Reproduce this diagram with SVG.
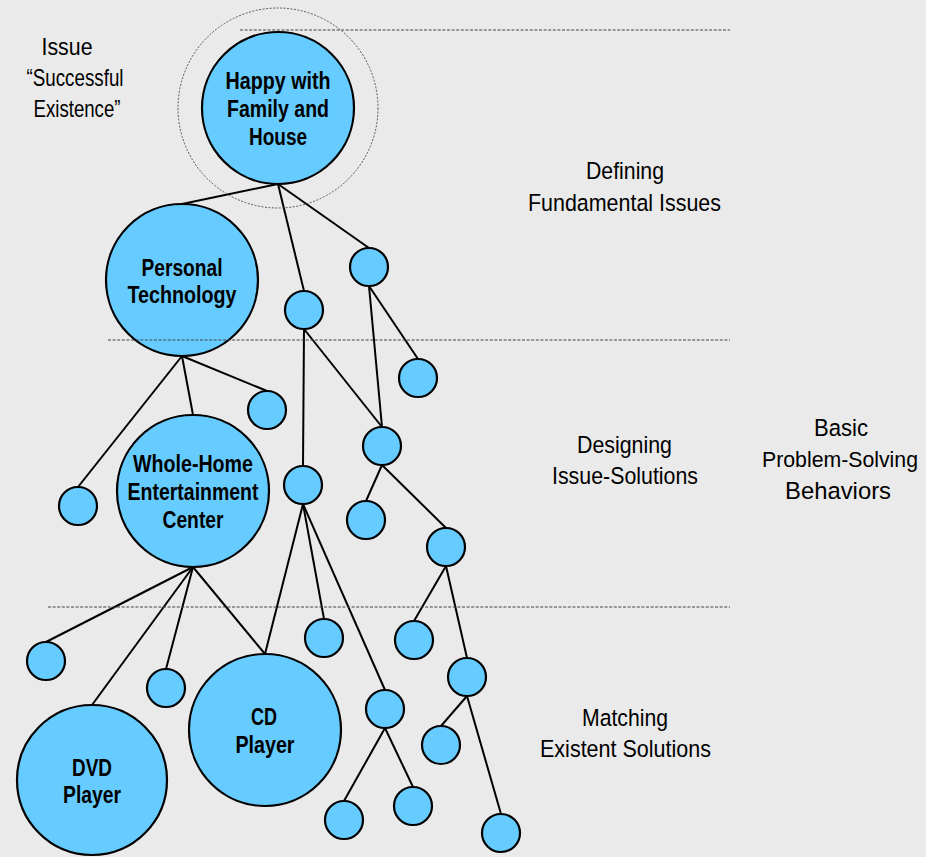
<svg xmlns="http://www.w3.org/2000/svg" width="926" height="857" viewBox="0 0 926 857">
<style>
.bg{fill:#eaeaea}
.n{fill:#66ccff;stroke:#000;stroke-width:2.2}
.e line{stroke:#000;stroke-width:2}
.lab{font-family:"Liberation Sans",Arial,sans-serif;font-weight:bold;font-size:23px;fill:#000;text-anchor:middle}
.side{font-family:"Liberation Sans",Arial,sans-serif;font-size:24.5px;fill:#000;text-anchor:middle}
.dash{stroke:#444;stroke-width:1;stroke-dasharray:3 1.6;fill:none}
</style>
<rect class="bg" x="0" y="0" width="926" height="857"/>
<g id="connectors" class="e">
<line x1="278" y1="184" x2="182" y2="204"/>
<line x1="278" y1="184" x2="304" y2="291"/>
<line x1="278" y1="184" x2="369" y2="248"/>
<line x1="369" y1="286" x2="382" y2="427"/>
<line x1="369" y1="286" x2="418" y2="359"/>
<line x1="304" y1="329" x2="303" y2="466"/>
<line x1="304" y1="329" x2="382" y2="427"/>
<line x1="182" y1="356" x2="78" y2="487"/>
<line x1="182" y1="356" x2="193" y2="415"/>
<line x1="182" y1="356" x2="267" y2="391"/>
<line x1="382" y1="465" x2="366" y2="501"/>
<line x1="382" y1="465" x2="446" y2="528"/>
<line x1="303" y1="504" x2="265" y2="654"/>
<line x1="303" y1="504" x2="324" y2="619"/>
<line x1="303" y1="504" x2="385" y2="690"/>
<line x1="193" y1="567" x2="46" y2="642"/>
<line x1="193" y1="567" x2="92" y2="705"/>
<line x1="193" y1="567" x2="166" y2="669"/>
<line x1="193" y1="567" x2="265" y2="654"/>
<line x1="446" y1="566" x2="414" y2="621"/>
<line x1="446" y1="566" x2="467" y2="658"/>
<line x1="467" y1="696" x2="441" y2="726"/>
<line x1="467" y1="696" x2="501" y2="814"/>
<line x1="385" y1="728" x2="344" y2="801"/>
<line x1="385" y1="728" x2="413" y2="787"/>
</g>
<g id="ring"><circle cx="278" cy="108" r="100" fill="none" stroke="#555" stroke-width="1" stroke-dasharray="2 1.5"/></g>
<g id="node-happy"><circle class="n" cx="278" cy="108" r="76"/>
<text class="lab"><tspan x="278" y="89" textLength="105" lengthAdjust="spacingAndGlyphs">Happy with</tspan><tspan x="278" y="117" textLength="102" lengthAdjust="spacingAndGlyphs">Family and</tspan><tspan x="278" y="145" textLength="58" lengthAdjust="spacingAndGlyphs">House</tspan></text></g>
<g id="node-personal"><circle class="n" cx="182" cy="280" r="76"/>
<text class="lab"><tspan x="182" y="276" textLength="81" lengthAdjust="spacingAndGlyphs">Personal</tspan><tspan x="182" y="303" textLength="109" lengthAdjust="spacingAndGlyphs">Technology</tspan></text></g>
<g id="node-wholehome"><circle class="n" cx="193" cy="491" r="76"/>
<text class="lab"><tspan x="193" y="472" textLength="120" lengthAdjust="spacingAndGlyphs">Whole-Home</tspan><tspan x="193" y="500" textLength="131" lengthAdjust="spacingAndGlyphs">Entertainment</tspan><tspan x="193" y="528" textLength="61" lengthAdjust="spacingAndGlyphs">Center</tspan></text></g>
<g id="node-dvd"><circle class="n" cx="92" cy="780" r="75"/>
<text class="lab"><tspan x="92" y="776" textLength="40" lengthAdjust="spacingAndGlyphs">DVD</tspan><tspan x="92" y="803" textLength="58" lengthAdjust="spacingAndGlyphs">Player</tspan></text></g>
<g id="node-cd"><circle class="n" cx="265" cy="730" r="76"/>
<text class="lab"><tspan x="264" y="725" textLength="26" lengthAdjust="spacingAndGlyphs">CD</tspan><tspan x="265" y="753" textLength="59" lengthAdjust="spacingAndGlyphs">Player</tspan></text></g>
<g id="s1"><circle class="n" cx="369" cy="267" r="19"/></g>
<g id="s2"><circle class="n" cx="304" cy="310" r="19"/></g>
<g id="s3"><circle class="n" cx="418" cy="378" r="19"/></g>
<g id="s4"><circle class="n" cx="267" cy="410" r="19"/></g>
<g id="s5"><circle class="n" cx="382" cy="446" r="19"/></g>
<g id="s6"><circle class="n" cx="303" cy="485" r="19"/></g>
<g id="s7"><circle class="n" cx="366" cy="520" r="19"/></g>
<g id="s8"><circle class="n" cx="446" cy="547" r="19"/></g>
<g id="s9"><circle class="n" cx="78" cy="506" r="19"/></g>
<g id="s10"><circle class="n" cx="46" cy="661" r="19"/></g>
<g id="s11"><circle class="n" cx="166" cy="688" r="19"/></g>
<g id="s12"><circle class="n" cx="324" cy="638" r="19"/></g>
<g id="s13"><circle class="n" cx="414" cy="640" r="19"/></g>
<g id="s14"><circle class="n" cx="467" cy="677" r="19"/></g>
<g id="s15"><circle class="n" cx="385" cy="709" r="19"/></g>
<g id="s16"><circle class="n" cx="441" cy="745" r="19"/></g>
<g id="s17"><circle class="n" cx="344" cy="820" r="19"/></g>
<g id="s18"><circle class="n" cx="413" cy="806" r="19"/></g>
<g id="s19"><circle class="n" cx="501" cy="833" r="19"/></g>
<g id="dividers">
<line class="dash" x1="240" y1="30" x2="730" y2="30"/>
<line class="dash" x1="108" y1="340" x2="730" y2="340" stroke="#777"/>
<line class="dash" x1="48" y1="607" x2="730" y2="607"/>
</g>
<g id="side-labels" class="side">
<text x="67" y="55" textLength="51" lengthAdjust="spacingAndGlyphs">Issue</text>
<text x="75" y="86" textLength="97" lengthAdjust="spacingAndGlyphs">“Successful</text>
<text x="77" y="117" textLength="87" lengthAdjust="spacingAndGlyphs">Existence”</text>
<text x="625" y="179" textLength="78" lengthAdjust="spacingAndGlyphs">Defining</text>
<text x="624.5" y="211" textLength="193" lengthAdjust="spacingAndGlyphs">Fundamental Issues</text>
<text x="624.5" y="453" textLength="95" lengthAdjust="spacingAndGlyphs">Designing</text>
<text x="625" y="484" textLength="146" lengthAdjust="spacingAndGlyphs">Issue-Solutions</text>
<text x="841" y="436" textLength="54" lengthAdjust="spacingAndGlyphs">Basic</text>
<text x="840" y="467" font-size="22" textLength="156" lengthAdjust="spacingAndGlyphs">Problem-Solving</text>
<text x="838" y="499" textLength="106" lengthAdjust="spacingAndGlyphs">Behaviors</text>
<text x="625" y="726" textLength="86" lengthAdjust="spacingAndGlyphs">Matching</text>
<text x="625.5" y="757" textLength="171" lengthAdjust="spacingAndGlyphs">Existent Solutions</text>
</g>
</svg>
